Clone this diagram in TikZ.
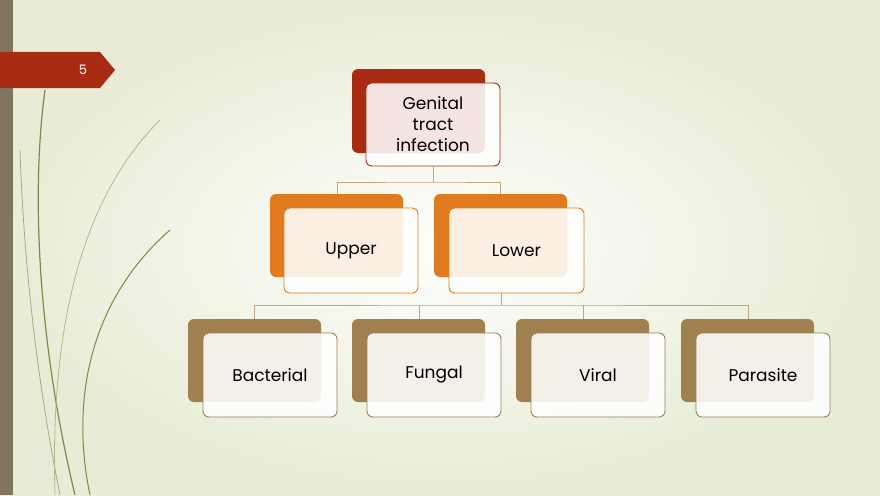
\documentclass[tikz,border=0pt]{standalone}
\usepackage{fontspec}
\setmainfont{Poppins}
\begin{document}
\begin{tikzpicture}[x=1pt,y=-1pt,
 back/.style={rounded corners=6pt,draw=none},
 front/.style={rounded corners=6pt,fill=white,fill opacity=0.88,text opacity=1,draw=#1,line width=0.9pt,font=\fontsize{17}{21}\selectfont,align=center},
 conn/.style={draw=tanl,line width=0.6pt}]
\definecolor{bgc}{RGB}{232,236,214}
\definecolor{redc}{RGB}{168,44,20}
\definecolor{orc}{RGB}{226,122,30}
\definecolor{brc}{RGB}{160,128,80}
\definecolor{tanl}{RGB}{200,165,120}
\definecolor{barc}{RGB}{128,118,95}
\definecolor{grassc}{RGB}{120,140,70}
\useasboundingbox (0,0) rectangle (880,495);
\shade[inner color=white!95!bgc,outer color=bgc] (0,0) rectangle (880,495);
\fill[barc] (0,0) rectangle (13,495);
\fill[redc] (0,52) -- (100,52) -- (115,70) -- (100,88) -- (0,88) -- cycle;
\node[text=white,font=\fontsize{13}{15}\selectfont] (pg) at (83,70) {5};
\draw[grassc,line width=1.2pt] (45,90) .. controls (30,200) and (40,350) .. (75,495);
\draw[grassc,line width=1pt] (170,230) .. controls (90,300) and (70,400) .. (90,495);
\draw[grassc!70,line width=0.8pt] (20,150) .. controls (25,300) and (45,420) .. (60,495);
\draw[grassc!60,line width=0.8pt] (160,120) .. controls (80,200) and (50,330) .. (55,495);
% top
\fill[redc,back] (352,69) rectangle (485,153);
\node[front=redc,minimum width=134pt,minimum height=83pt] (g) at (433,124.5) {Genital\\tract\\infection};
% middle
\fill[orc,back] (270,194) rectangle (403,277);
\fill[orc,back] (434,194) rectangle (567,277);
\node[front=orc,minimum width=134pt,minimum height=85pt] (u) at (351,250.5) {Upper};
\node[front=orc,minimum width=135pt,minimum height=85pt] (l) at (516.5,250.5) {Lower};
% bottom
\foreach \bx in {188,352,516,681}{\fill[brc,back] (\bx,319) rectangle (\bx+133,402);}
\node[front=brc,minimum width=134pt,minimum height=84pt] (b) at (270,375) {Bacterial};
\node[front=brc,minimum width=134pt,minimum height=84pt] (f) at (434,375) {Fungal};
\node[front=brc,minimum width=134pt,minimum height=84pt] (v) at (598,375) {Viral};
\node[front=brc,minimum width=134pt,minimum height=84pt] (p) at (763,375) {Parasite};
% connectors
\coordinate (j1) at (433,182);
\draw[conn] (g.south) -- (j1) (337,194) |- (j1) -| (500,194);
\coordinate (j2) at (501,305);
\coordinate (lb) at (501,293);
\draw[conn] (lb) -- (j2) (254,319) |- (j2) -| (748,319);
\draw[conn] (419,319) -- (419,305) (583,319) -- (583,305);
\end{tikzpicture}
\end{document}
